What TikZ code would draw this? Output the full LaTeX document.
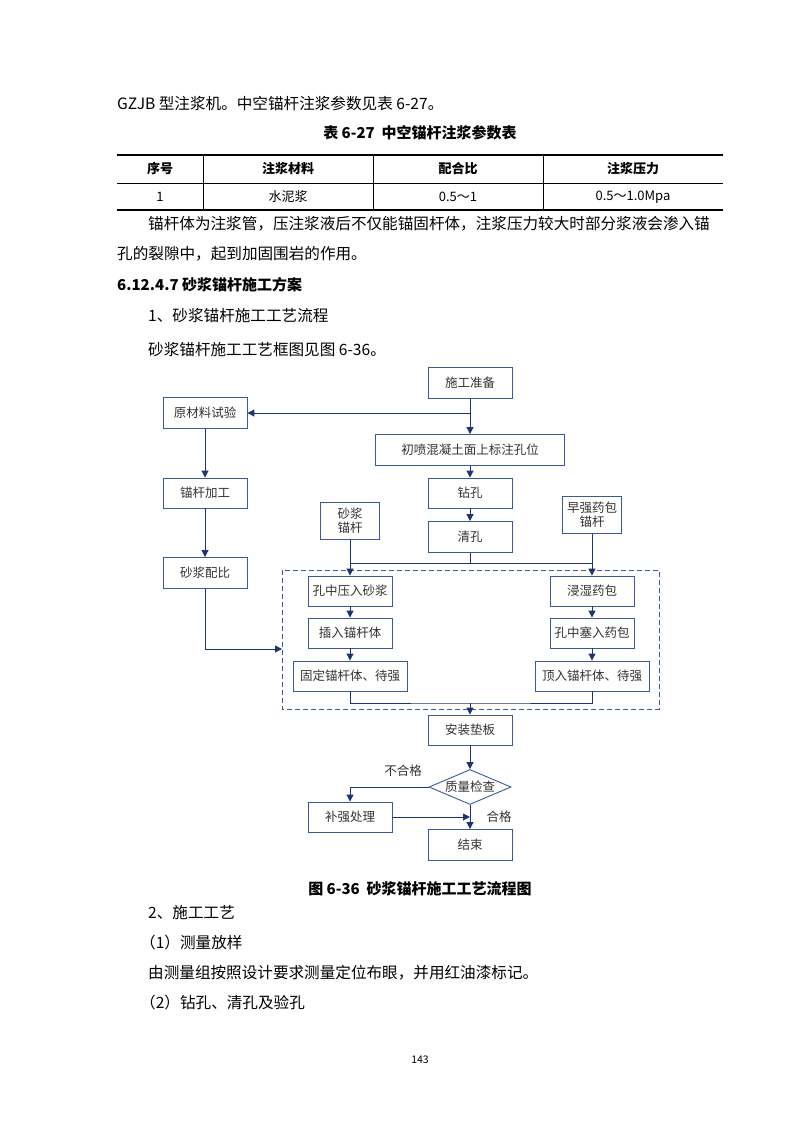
\documentclass[tikz,border=0pt]{standalone}
\usepackage{fontspec}
\setmainfont{Noto Sans CJK SC}
\usetikzlibrary{shapes.geometric,arrows.meta}
\definecolor{bx}{HTML}{3A5A95}
\definecolor{ar}{HTML}{1F3570}
\definecolor{tx}{HTML}{333333}
\begin{document}
\begin{tikzpicture}[x=1pt,y=-1pt,
  body/.style={anchor=west,inner sep=0,font=\fontsize{15.6}{18}\selectfont},
  hd/.style={inner sep=0,font=\fontsize{15}{18}\selectfont\bfseries},
  cell/.style={inner sep=0,font=\fontsize{13}{15}\selectfont},
  box/.style={draw=bx,line width=0.9pt,fill=white,inner sep=0,text=tx,font=\fontsize{12.5}{14}\selectfont,align=center},
  arr/.style={draw=ar,line width=1pt,-{Triangle[length=7pt,width=7pt]}},
  ln/.style={draw=ar,line width=1pt}]
\useasboundingbox[fill=white] (0,0) rectangle (800,1132);
% page text
\node[body] (t1) at (117,104) {GZJB 型注浆机。中空锚杆注浆参数见表 6-27。};
\node[hd] (t2) at (420,133) {表 6-27\ \ 中空锚杆注浆参数表};
\draw[line width=1.3pt] (117,155) -- (723,155);
\draw[line width=0.5pt] (117,183) -- (723,183);
\draw[line width=1.3pt] (117,210) -- (723,210);
\foreach \x in {203,373,543} \draw[line width=0.5pt] (\x,155) -- (\x,210);
\node[cell,font=\fontsize{13}{15}\selectfont\bfseries] (h1) at (160,169) {序号};
\node[cell,font=\fontsize{13}{15}\selectfont\bfseries] (h2) at (288,169) {注浆材料};
\node[cell,font=\fontsize{13}{15}\selectfont\bfseries] (h3) at (458,169) {配合比};
\node[cell,font=\fontsize{13}{15}\selectfont\bfseries] (h4) at (633,169) {注浆压力};
\node[cell] (r1) at (160,197) {1};
\node[cell] (r2) at (288,197) {水泥浆};
\node[cell] (r3) at (458,197) {0.5～1};
\node[cell] (r4) at (633,197) {0.5～1.0Mpa};
\node[body] (p1) at (148,224) {锚杆体为注浆管，压注浆液后不仅能锚固杆体，注浆压力较大时部分浆液会渗入锚};
\node[body] (p2) at (117,254) {孔的裂隙中，起到加固围岩的作用。};
\node[body,font=\fontsize{15}{18}\selectfont\bfseries] (p3) at (117,285) {6.12.4.7 砂浆锚杆施工方案};
\node[body] (p4) at (148,316) {1、砂浆锚杆施工工艺流程};
\node[body] (p5) at (148,350) {砂浆锚杆施工工艺框图见图 6-36。};
\node[hd] (cap) at (420,889) {图 6-36\ \ 砂浆锚杆施工工艺流程图};
\node[body] (q1) at (148,913) {2、施工工艺};
\node[body] (q2) at (140,943) {（1）测量放样};
\node[body] (q3) at (148,973) {由测量组按照设计要求测量定位布眼，并用红油漆标记。};
\node[body] (q4) at (140,1003) {（2）钻孔、清孔及验孔};
\node[inner sep=0,font=\fontsize{10.5}{12}\selectfont] (pg) at (420,1060) {143};
% flowchart
\draw[bx,dash pattern=on 5pt off 3pt,line width=1pt] (282,570) rectangle (659,709);
\node[box,minimum width=84pt,minimum height=31pt] (a) at (470,383) {施工准备};
\node[box,minimum width=84pt,minimum height=31pt] (b) at (205,413) {原材料试验};
\node[box,minimum width=189pt,minimum height=31pt] (c) at (470,450) {初喷混凝土面上标注孔位};
\node[box,minimum width=84pt,minimum height=30pt] (d) at (470,493) {钻孔};
\node[box,minimum width=84pt,minimum height=31pt] (e) at (470,537) {清孔};
\node[box,minimum width=59pt,minimum height=37pt] (f) at (350,521) {砂浆\\锚杆};
\node[box,minimum width=59pt,minimum height=37pt] (g) at (592,515) {早强药包\\锚杆};
\node[box,minimum width=84pt,minimum height=30pt] (h) at (205,493) {锚杆加工};
\node[box,minimum width=84pt,minimum height=31pt] (i) at (205,573) {砂浆配比};
\node[box,minimum width=84pt,minimum height=30pt] (j) at (350,591) {孔中压入砂浆};
\node[box,minimum width=84pt,minimum height=30pt] (k) at (350,633) {插入锚杆体};
\node[box,minimum width=114pt,minimum height=30pt] (l) at (350,676) {固定锚杆体、待强};
\node[box,minimum width=84pt,minimum height=30pt] (m) at (592,591) {浸湿药包};
\node[box,minimum width=84pt,minimum height=30pt] (n) at (592,633) {孔中塞入药包};
\node[box,minimum width=114pt,minimum height=30pt] (o) at (592,676) {顶入锚杆体、待强};
\node[box,minimum width=84pt,minimum height=30pt] (p) at (470,730) {安装垫板};
\node[box,diamond,aspect=2.4,minimum width=82pt,minimum height=35pt] (q) at (470,787) {质量检查};
\node[box,minimum width=84pt,minimum height=30pt] (r) at (350,817) {补强处理};
\node[box,minimum width=84pt,minimum height=31pt] (s) at (470,845) {结束};
\node[text=tx,inner sep=0,font=\fontsize{12.5}{14}\selectfont] (nl) at (403,771) {不合格};
\node[text=tx,inner sep=0,font=\fontsize{12.5}{14}\selectfont] (ok) at (499,817) {合格};
\coordinate (a1) at (470,413);
\coordinate (jm) at (470,563);
\coordinate (mg) at (470,703);
\coordinate (bd) at (282,649);
\coordinate (rs) at (470,817);
\draw[arr] (a) -- (c);
\draw[arr] (a1) -- (b);
\draw[arr] (c) -- (d);
\draw[arr] (d) -- (e);
\draw[arr] (b) -- (h);
\draw[arr] (h) -- (i);
\draw[arr] (i) |- (bd);
\draw[ln] (e) -- (jm);
\draw[arr] (f) -- (j);
\draw[arr] (g) -- (m);
\draw[ln] (350,563) -- (592,563);
\draw[arr] (j) -- (k);
\draw[arr] (k) -- (l);
\draw[arr] (m) -- (n);
\draw[arr] (n) -- (o);
\draw[ln] (l) |- (mg) -| (o);
\draw[arr] (mg) -- (p);
\draw[arr] (p) -- (q);
\draw[arr] (q) -- (s);
\draw[arr] (q.west) -| (r);
\draw[arr] (r) -- (rs);
\end{tikzpicture}
\end{document}
